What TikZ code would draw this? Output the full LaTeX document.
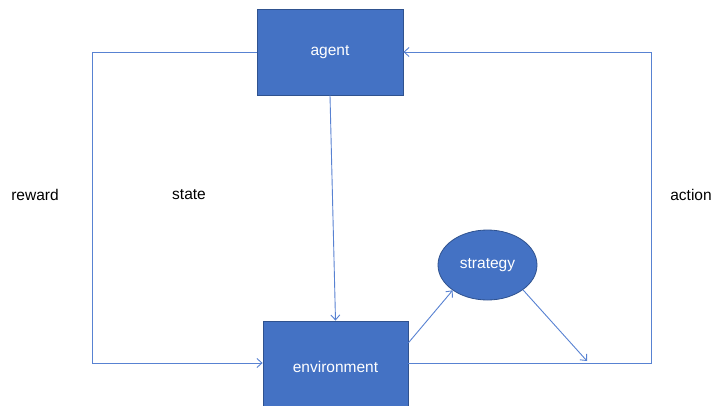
\documentclass[tikz,border=0pt]{standalone}
\usepackage{fontspec}
\setmainfont{Liberation Sans}
\usetikzlibrary{shapes.geometric,arrows.meta}
\definecolor{boxfill}{HTML}{4472C4}
\definecolor{boxline}{HTML}{2F528F}
\definecolor{wire}{RGB}{88,130,210}
\tikzset{
  blockbox/.style={draw=boxline, line width=0.8pt, fill=boxfill, text=white, font=\fontsize{15.5}{18}\selectfont, inner sep=0pt},
  ovalbox/.style={ellipse, draw=boxline, line width=0.8pt, fill=boxfill, text=white, font=\fontsize{15.5}{18}\selectfont, inner sep=0pt, minimum width=99pt, minimum height=70pt},
  wireline/.style={draw=wire, line width=0.9pt},
  wirearrow/.style={wireline, -{Straight Barb[length=5pt,width=9pt]}},
  lbl/.style={font=\fontsize{15.5}{18}\selectfont, text=black}
}
\begin{document}
\begin{tikzpicture}[x=1pt,y=-1pt]
\clip (0,0) rectangle (712,405);
\fill[white] (0,0) rectangle (712,405);
\node[blockbox, minimum width=146pt, minimum height=86pt] (agent) at (330,52) {agent};
\node[blockbox, minimum width=145pt, minimum height=91pt] (env) at (335.5,366.5) {environment};
\node[ovalbox] (str) at (487.5,265) {strategy};
\node[lbl] (reward) at (35,195) {reward};
\node[lbl] (state) at (189,195) {state};
\node[lbl] (action) at (691,195) {action};
\coordinate (tip) at (587,361);
\draw[wirearrow] (agent.west) -- (92,52) -- (92,363) -- (env.west |- 0,363);
\draw[wirearrow] (env.east |- 0,363) -- (651,363) -- (651,52) -- (agent.east);
\draw[wirearrow] (agent.south) -- (env.north);
\draw[wirearrow] (env.18) -- (str.216);
\draw[wirearrow] (str.325) -- (tip);
\end{tikzpicture}
\end{document}
